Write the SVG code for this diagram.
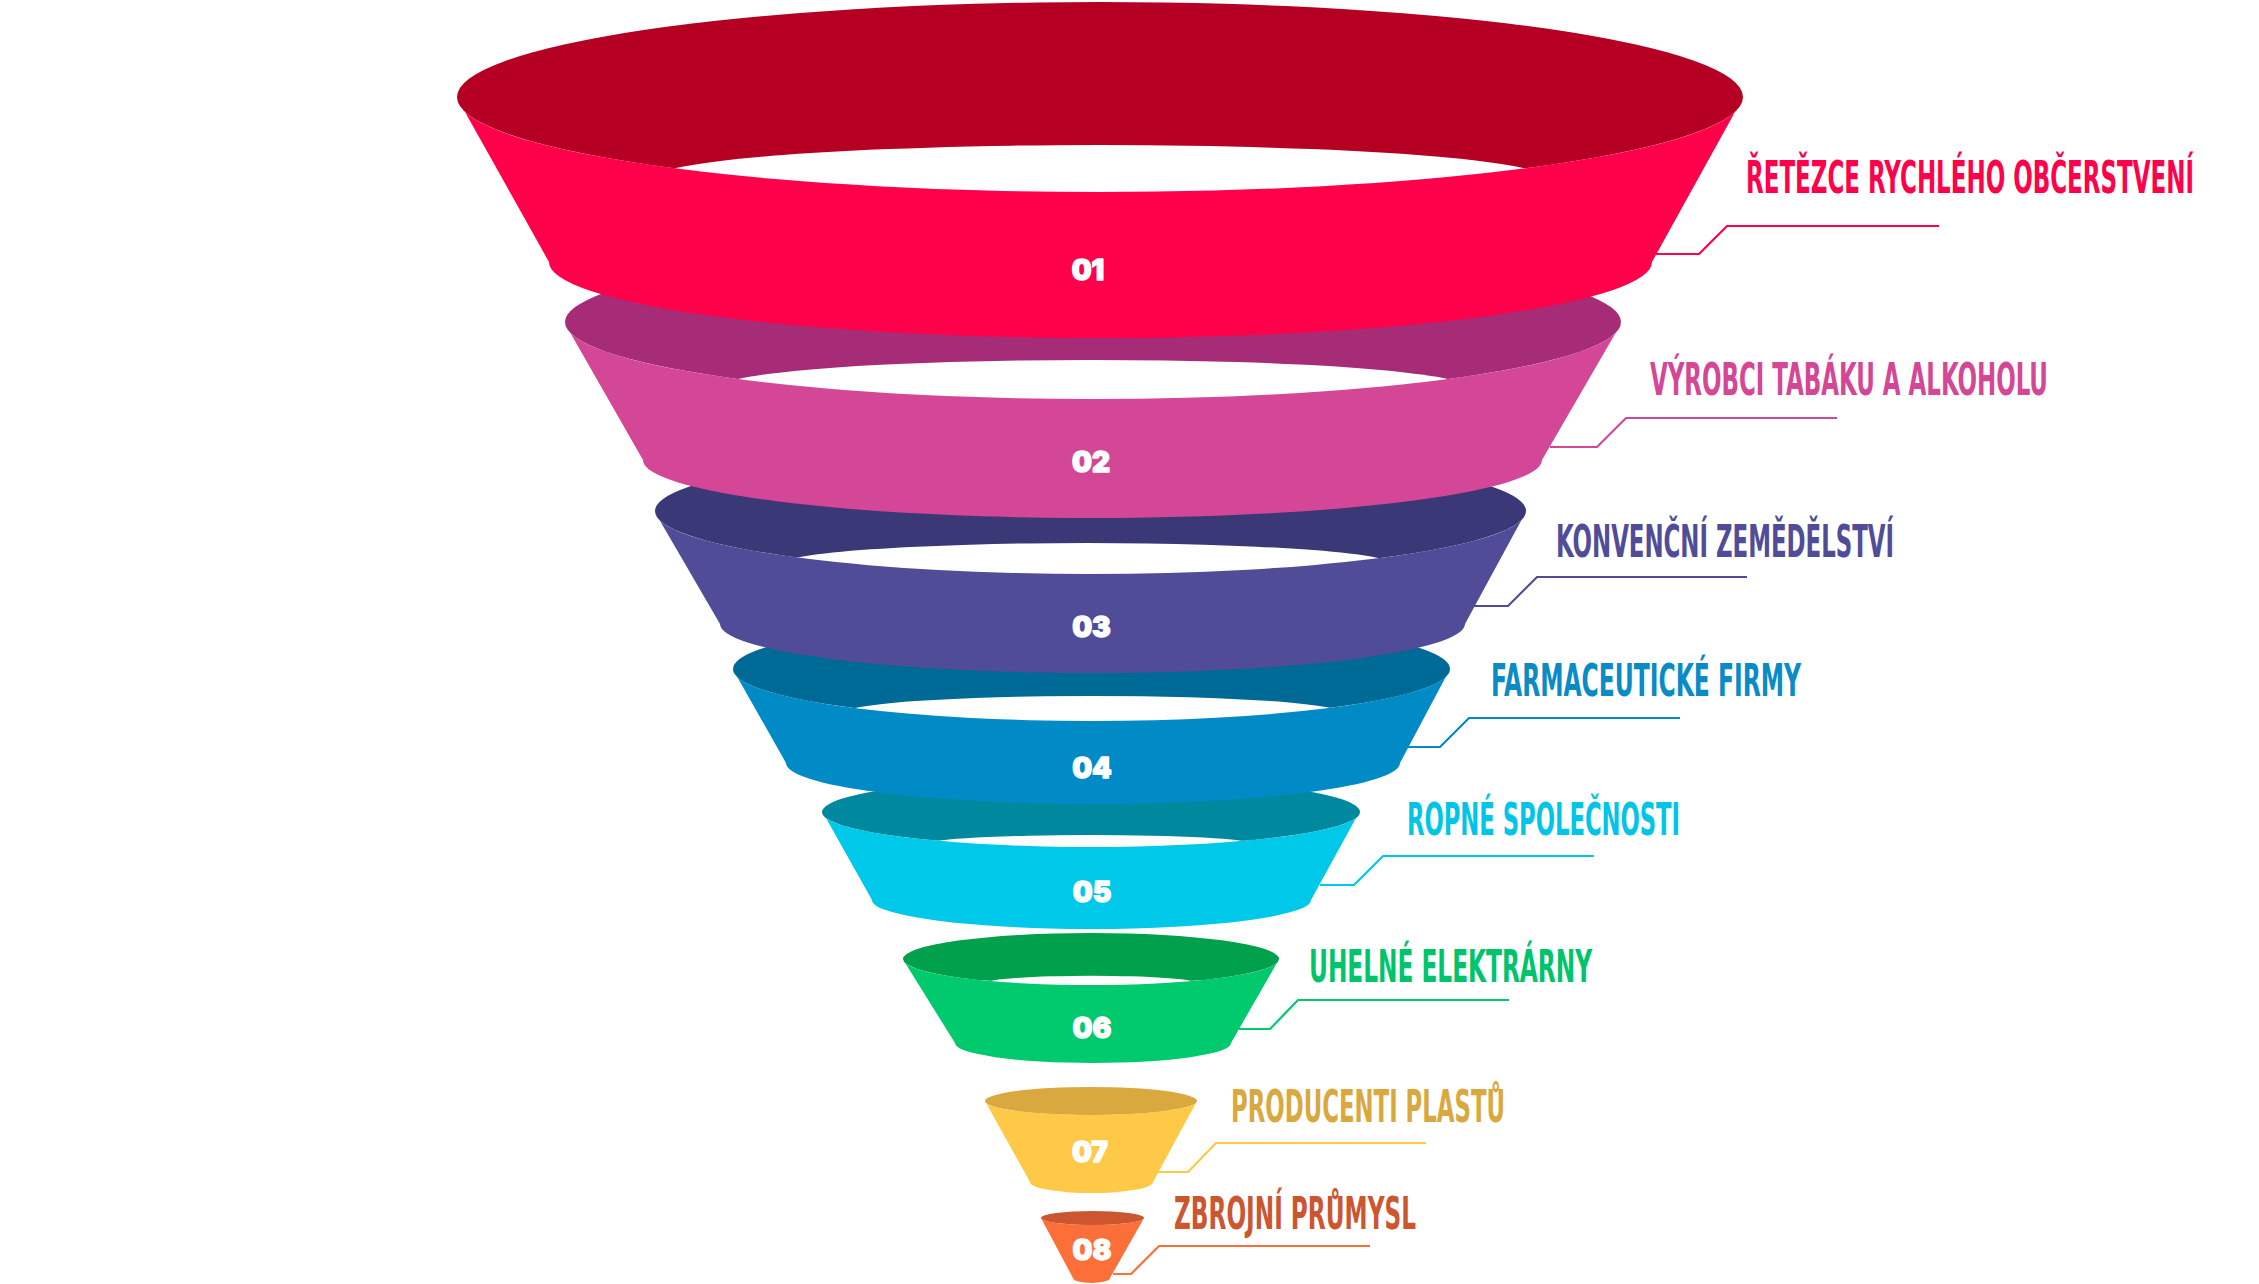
<svg xmlns="http://www.w3.org/2000/svg" width="2259" height="1284" viewBox="0 0 2259 1284">
<style>
.lbl{font-family:'Liberation Sans Narrow','DejaVu Sans Condensed',Roboto,sans-serif;font-weight:bold;font-size:44px}
.num{font-family:Inter,Roboto,'DejaVu Sans',sans-serif;font-weight:900;font-size:28px;fill:#fff;stroke:#fff;stroke-width:1.3;stroke-linejoin:round;text-anchor:middle}
.hole{fill:#fff}
.ld{fill:none;stroke-width:2.2}
</style>
<rect width="2259" height="1284" fill="#fff"/>
<g id="connectors">
<polyline class="ld" stroke="#FF004A" points="1939,226 1727,226 1699,254 1652,254"/>
<polyline class="ld" stroke="#D44796" points="1837,418 1626,418 1597,447 1550,447"/>
<polyline class="ld" stroke="#514C98" points="1747,577 1537,577 1508,606 1471,606"/>
<polyline class="ld" stroke="#008BC7" points="1680,718 1469,718 1440,747 1406,747"/>
<polyline class="ld" stroke="#00C8E8" points="1594,856 1383,856 1354,885 1320,885"/>
<polyline class="ld" stroke="#00C96E" points="1509,1000 1298,1000 1270,1029 1239,1029"/>
<polyline class="ld" stroke="#FDC946" points="1426,1143 1216,1143 1188,1172 1157,1172"/>
<polyline class="ld" stroke="#FC6F38" points="1370,1246 1159,1246 1131,1274 1113,1274"/>
</g>
<g id="band8">
<ellipse cx="1092.5" cy="1218" rx="51.5" ry="7" fill="#CC5630"/>
<path d="M1041.5,1219 A51.5 7 0 0 0 1143.5,1219 L1110,1278 A18.5 5 0 0 1 1073,1278 Z" fill="#FC6F38"/>
<text class="num" x="1092" y="1260">08</text>
<text class="lbl" transform="translate(1174,1229) scale(0.6,1)" fill="#CC5630" textLength="403.3" lengthAdjust="spacingAndGlyphs">ZBROJNÍ PRŮMYSL</text>
</g>
<g id="band7">
<ellipse cx="1091" cy="1101" rx="106" ry="14" fill="#D9A940"/>
<path d="M986.1,1103 A106 14 0 0 0 1195.9,1103 L1153,1182 A61.5 11 0 0 1 1030,1182 Z" fill="#FDC946"/>
<text class="num" x="1090" y="1162">07</text>
<text class="lbl" transform="translate(1231,1122) scale(0.6,1)" fill="#D9A940" textLength="456.7" lengthAdjust="spacingAndGlyphs">PRODUCENTI PLASTŮ</text>
</g>
<g id="band6">
<ellipse cx="1091" cy="959" rx="188" ry="26" fill="#00A04C"/>
<ellipse class="hole" cx="1091" cy="983" rx="105" ry="7.2"/>
<path d="M905.2,963 A188 26 0 0 0 1276.8,963 L1231,1043 A138 20 0 0 1 955,1043 Z" fill="#00C96E"/>
<text class="num" x="1092" y="1038">06</text>
<text class="lbl" transform="translate(1309,982) scale(0.6,1)" fill="#00C46C" textLength="471.7" lengthAdjust="spacingAndGlyphs">UHELNÉ ELEKTRÁRNY</text>
</g>
<g id="band5">
<ellipse cx="1091" cy="812" rx="269" ry="35" fill="#00889E"/>
<ellipse class="hole" cx="1090" cy="843.6" rx="160" ry="8.6"/>
<path d="M826,818 A269 35 0 0 0 1356,818 L1311,900 A219.5 29 0 0 1 872,900 Z" fill="#00C8E8"/>
<text class="num" x="1092" y="902">05</text>
<text class="lbl" transform="translate(1407,835) scale(0.6,1)" fill="#00C5E6" textLength="455" lengthAdjust="spacingAndGlyphs">ROPNÉ SPOLEČNOSTI</text>
</g>
<g id="band4">
<ellipse cx="1091.5" cy="669" rx="358.5" ry="52" fill="#006A96"/>
<ellipse class="hole" cx="1093" cy="713.3" rx="250" ry="17.3"/>
<path d="M737.3,677 A358.5 52 0 0 0 1445.7,677 L1400,763 A307 41 0 0 1 786,763 Z" fill="#008BC7"/>
<text class="num" x="1092" y="778">04</text>
<text class="lbl" transform="translate(1491,696) scale(0.6,1)" fill="#0A8BC6" textLength="516.7" lengthAdjust="spacingAndGlyphs">FARMACEUTICKÉ FIRMY</text>
</g>
<g id="band3">
<ellipse cx="1090.5" cy="511" rx="435.5" ry="63" fill="#3A3876"/>
<ellipse class="hole" cx="1087" cy="564.6" rx="305.5" ry="21.6"/>
<path d="M659.5,520 A435.5 63 0 0 0 1521.5,520 L1465,624 A372.5 49 0 0 1 720,624 Z" fill="#514C98"/>
<text class="num" x="1091.5" y="637">03</text>
<text class="lbl" transform="translate(1556,557) scale(0.6,1)" fill="#514C98" textLength="563.3" lengthAdjust="spacingAndGlyphs">KONVENČNÍ ZEMĚDĚLSTVÍ</text>
</g>
<g id="band2">
<ellipse cx="1093" cy="322" rx="528" ry="77" fill="#A62C77"/>
<ellipse class="hole" cx="1093" cy="387.3" rx="372" ry="27.3"/>
<path d="M570.4,333 A528 77 0 0 0 1615.6,333 L1542,460 A449.5 58 0 0 1 643,460 Z" fill="#D44796"/>
<text class="num" x="1091" y="472">02</text>
<text class="lbl" transform="translate(1650,395) scale(0.6,1)" fill="#D44796" textLength="663.3" lengthAdjust="spacingAndGlyphs">VÝROBCI TABÁKU A ALKOHOLU</text>
</g>
<g id="band1">
<ellipse cx="1100" cy="97" rx="643" ry="95" fill="#B50024"/>
<ellipse class="hole" cx="1100" cy="179.5" rx="449" ry="34.5"/>
<path d="M465,112 A643 95 0 0 0 1735,112 L1652,262 A551.5 76 0 0 1 549,262 Z" fill="#FF004A"/>
<text class="num" x="1088" y="280">01</text>
<text class="lbl" transform="translate(1746,193) scale(0.6,1)" fill="#FF004A" textLength="746.7" lengthAdjust="spacingAndGlyphs">ŘETĚZCE RYCHLÉHO OBČERSTVENÍ</text>
</g>
</svg>
